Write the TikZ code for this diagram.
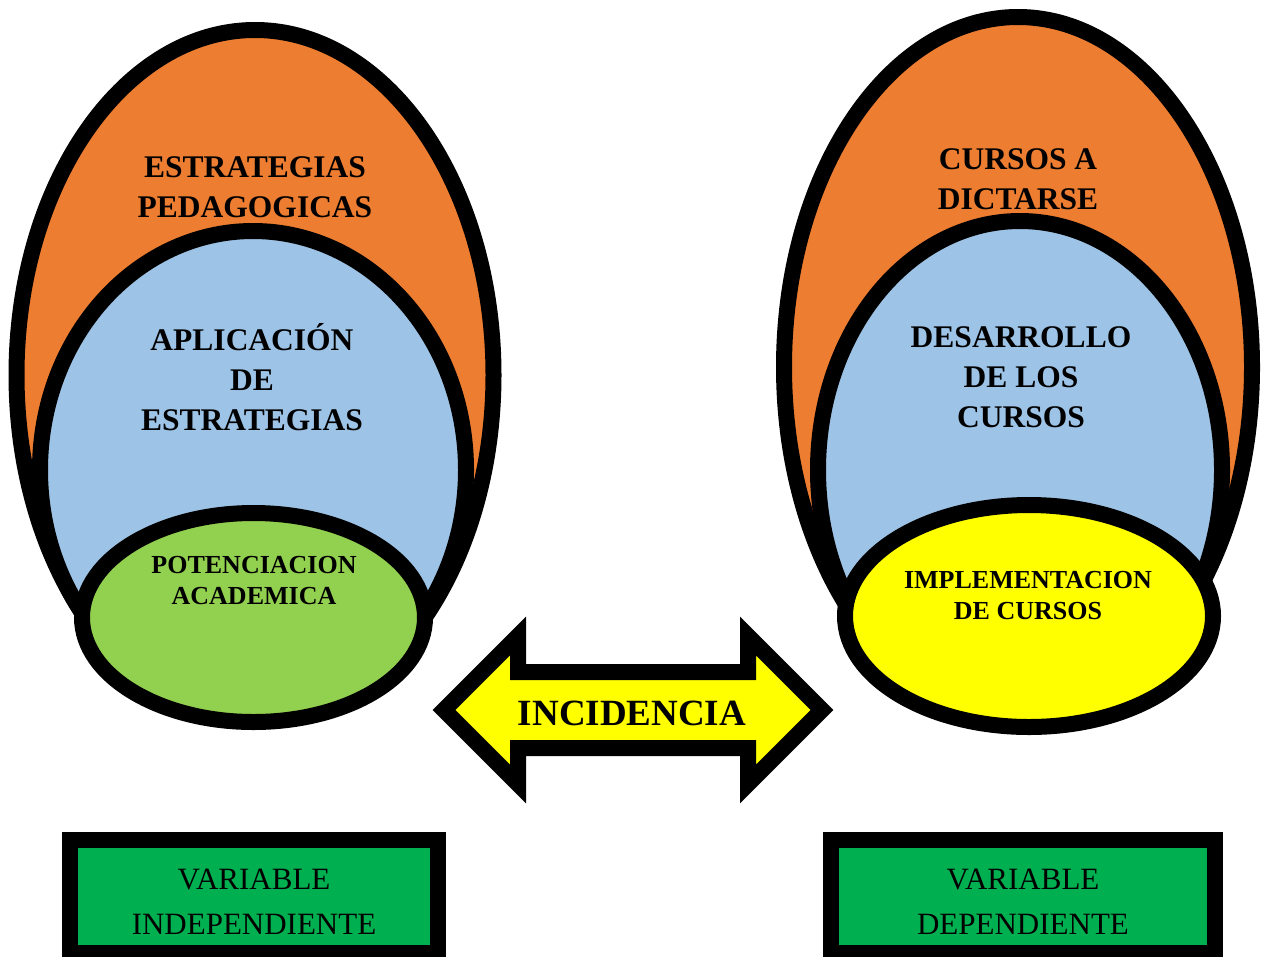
\documentclass[tikz,border=0pt]{standalone}
\usepackage{fontspec}
\setmainfont{Liberation Serif}
\usepackage{tikz}
\usetikzlibrary{positioning,calc}
\definecolor{naranja}{HTML}{ED7D31}
\definecolor{celeste}{HTML}{9DC3E6}
\definecolor{verdeclaro}{HTML}{92D050}
\definecolor{amarillo}{HTML}{FFFF00}
\definecolor{verde}{HTML}{00B050}

\begin{document}
\begin{tikzpicture}[x=1pt, y=-1pt, line join=miter,
  borde/.style={draw=black, line width=16pt},
  titulo/.style={font=\fontsize{31.5}{40}\selectfont\bfseries, align=center, anchor=base, inner sep=0pt},
  chico/.style={font=\fontsize{26}{30.5}\selectfont\bfseries, align=center, anchor=base, inner sep=0pt},
  textovar/.style={font=\fontsize{31}{45}\selectfont, align=center, anchor=base, inner sep=0pt}]
\useasboundingbox (0,0) rectangle (1268,956);

\filldraw[borde, fill=naranja] (255,375) ellipse [x radius=238.5pt, y radius=345pt];
\filldraw[borde, fill=celeste] (253,470) ellipse [x radius=213pt, y radius=239pt];
\filldraw[borde, fill=verdeclaro] (253.5,617.5) ellipse [x radius=171.5pt, y radius=104.5pt];

\node[titulo] (estrategias) at (255,217) {ESTRATEGIAS\\PEDAGOGICAS};
\node[titulo] (aplicacion) at (252,430) {APLICACIÓN\\DE\\ESTRATEGIAS};
\node[chico] (potenciacion) at (254,604) {POTENCIACION\\ACADEMICA};

\filldraw[borde, fill=naranja] (1018,367) ellipse [x radius=234pt, y radius=350pt];
\filldraw[borde, fill=celeste] (1020,470) ellipse [x radius=202pt, y radius=249pt];
\filldraw[borde, fill=amarillo] (1029,616) ellipse [x radius=184pt, y radius=111pt];

\node[titulo] (cursos) at (1018,209) {CURSOS A\\DICTARSE};
\node[titulo] (desarrollo) at (1021,427) {DESARROLLO\\DE LOS\\CURSOS};
\node[chico] (implementacion) at (1028,619) {IMPLEMENTACION\\DE CURSOS};

\draw[borde, fill=amarillo] (444,710) -- (518,636) -- (518,672) -- (748,672) -- (748,636)
  -- (822,710) -- (748,784) -- (748,748) -- (518,748) -- (518,784) -- cycle;
\node[font=\fontsize{37}{40}\selectfont\bfseries, anchor=base, inner sep=0pt] (incidencia) at (632,725) {INCIDENCIA};

\filldraw[borde, fill=verde] (70,840) rectangle (438,953);
\filldraw[borde, fill=verde] (831,840) rectangle (1215,953);
\node[textovar] (indep) at (254,934) {VARIABLE\\INDEPENDIENTE};
\node[textovar] (dep) at (1023,934) {VARIABLE\\DEPENDIENTE};

\end{tikzpicture}
\end{document}
